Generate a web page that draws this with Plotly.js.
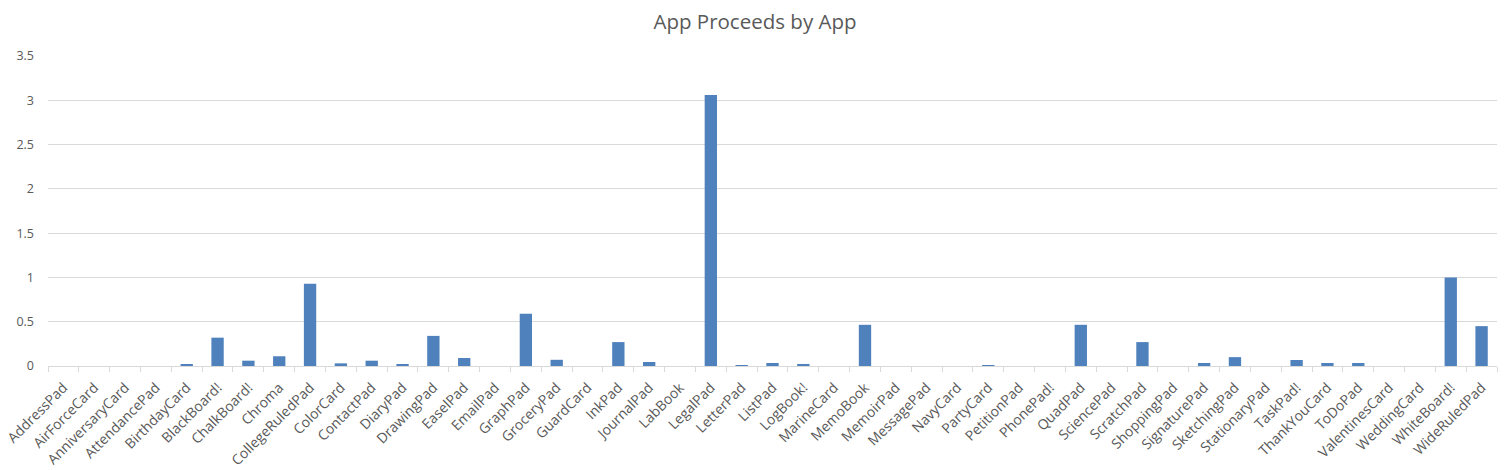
<!DOCTYPE html>
<html>
<head>
<meta charset="utf-8">
<script src="https://cdn.plot.ly/plotly-3.0.1.min.js"></script>
<style>html,body{margin:0;padding:0;background:#fff;}#chart{width:1510px;height:470px;}</style>
</head>
<body>
<div id="chart"></div>
<script>
const apps = ["AddressPad","AirForceCard","AnniversaryCard","AttendancePad","BirthdayCard","BlackBoard!","ChalkBoard!","Chroma","CollegeRuledPad","ColorCard","ContactPad","DiaryPad","DrawingPad","EaselPad","EmailPad","GraphPad","GroceryPad","GuardCard","InkPad","JournalPad","LabBook","LegalPad","LetterPad","ListPad","LogBook!","MarineCard","MemoBook","MemoirPad","MessagePad","NavyCard","PartyCard","PetitionPad","PhonePad!","QuadPad","SciencePad","ScratchPad","ShoppingPad","SignaturePad","SketchingPad","StationaryPad","TaskPad!","ThankYouCard","ToDoPad","ValentinesCard","WeddingCard","WhiteBoard!","WideRuledPad"];
const proceeds = [0,0,0,0,0.02,0.32,0.06,0.11,0.93,0.03,0.06,0.02,0.34,0.09,0,0.59,0.07,0,0.27,0.045,0,3.06,0.01,0.034,0.023,0,0.465,0,0,0,0.01,0,0,0.465,0,0.27,0,0.034,0.10,0,0.068,0.034,0.034,0,0,1.0,0.45];
const yTicks = [0,0.5,1,1.5,2,2.5,3,3.5];
const yTickText = ["0","0.5","1","1.5","2","2.5","3","3.5"];

const font = "'Open Sans', sans-serif";
Plotly.newPlot("chart", [{
  type: "bar",
  x: apps,
  y: proceeds,
  marker: {color: "#4f81bd"},
  hoverinfo: "x+y"
}], {
  width: 1510, height: 470,
  margin: {l: 48, r: 13, t: 56, b: 104},
  paper_bgcolor: "#fff", plot_bgcolor: "#fff",
  bargap: 0.6,
  title: {text: "App Proceeds by App", x: 0.5, xanchor: "center", y: 0.953, yanchor: "middle",
          font: {family: font, size: 20.5, color: "#595959"}},
  xaxis: {
    type: "category", tickangle: -45, tickson: "boundaries", ticks: "outside", ticklen: 5,
    tickcolor: "#d9d9d9", showline: true, linecolor: "#d9d9d9", linewidth: 1,
    showgrid: false, ticklabelstandoff: 7,
    tickfont: {family: font, size: 14, color: "#595959"}, automargin: false
  },
  yaxis: {
    range: [0, 3.5], tickvals: yTicks, ticktext: yTickText, showgrid: true, gridcolor: "#d9d9d9",
    zeroline: false, showline: false, ticks: "", ticklabelstandoff: 13,
    tickfont: {family: font, size: 12.5, color: "#595959"}, automargin: false
  },
  showlegend: false
}, {displayModeBar: false, staticPlot: false});
</script>
</body>
</html>
